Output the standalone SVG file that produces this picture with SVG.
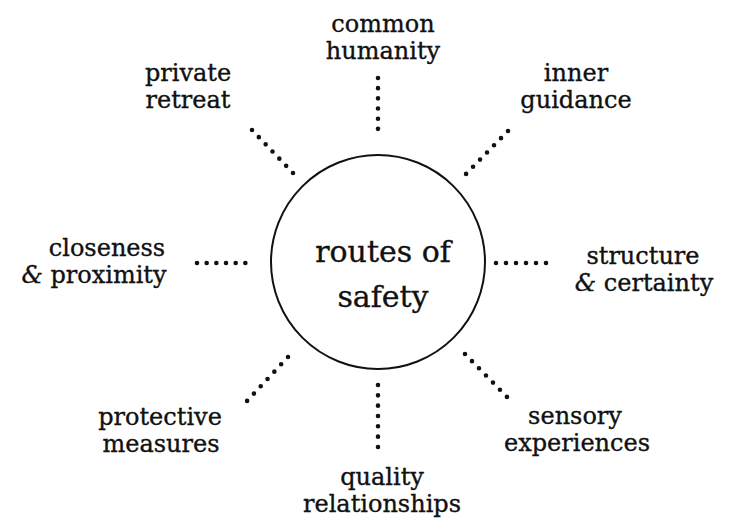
<svg xmlns="http://www.w3.org/2000/svg" width="731" height="519" viewBox="0 0 731 519">
<style>
.lbl{font-family:"DejaVu Serif","Liberation Serif",serif;font-size:24px;fill:#111;stroke:#111;stroke-width:0.35;text-anchor:middle}
.ctr{font-family:"DejaVu Serif","Liberation Serif",serif;font-size:30px;fill:#111;stroke:#111;stroke-width:0.35;text-anchor:middle}
.amp{font-style:italic}
.dots{stroke:#111;stroke-width:4.6;stroke-linecap:round;fill:none}
</style>
<rect width="731" height="519" fill="#fff"/>
<g id="center">
<circle cx="378" cy="262" r="107" fill="none" stroke="#111" stroke-width="2"/>
<text class="ctr" x="383" y="262">routes of</text>
<text class="ctr" x="383" y="307">safety</text>
</g>
<g id="connectors">
<path class="dots" stroke-dasharray="0 10.17" d="M378,78 L378,139"/>
<path class="dots" stroke-dasharray="0 10.33" d="M378,385 L378,447"/>
<path class="dots" stroke-dasharray="0 9.67" d="M197,263 L255,263"/>
<path class="dots" stroke-dasharray="0 10" d="M496,263 L556,263"/>
<path class="dots" stroke-dasharray="0 9.9" d="M252,130 L293,173"/>
<path class="dots" stroke-dasharray="0 10" d="M508,131 L466,174"/>
<path class="dots" stroke-dasharray="0 10" d="M288,357 L247,401"/>
<path class="dots" stroke-dasharray="0 10" d="M465,354 L507,397"/>
</g>
<g id="common-humanity"><text class="lbl" x="383" y="32">common</text><text class="lbl" x="383" y="59">humanity</text></g>
<g id="private-retreat"><text class="lbl" x="188" y="81">private</text><text class="lbl" x="188" y="108">retreat</text></g>
<g id="inner-guidance"><text class="lbl" x="576" y="81">inner</text><text class="lbl" x="576" y="108">guidance</text></g>
<g id="closeness-proximity"><text class="lbl" x="107" y="256">closeness</text><text class="lbl" x="94" y="283"><tspan class="amp">&amp;</tspan> proximity</text></g>
<g id="structure-certainty"><text class="lbl" x="643" y="264">structure</text><text class="lbl" x="644" y="291"><tspan class="amp">&amp;</tspan> certainty</text></g>
<g id="protective-measures"><text class="lbl" x="160" y="425">protective</text><text class="lbl" x="161" y="452">measures</text></g>
<g id="sensory-experiences"><text class="lbl" x="575" y="424">sensory</text><text class="lbl" x="577" y="451">experiences</text></g>
<g id="quality-relationships"><text class="lbl" x="382" y="485">quality</text><text class="lbl" x="382" y="512">relationships</text></g>
</svg>
